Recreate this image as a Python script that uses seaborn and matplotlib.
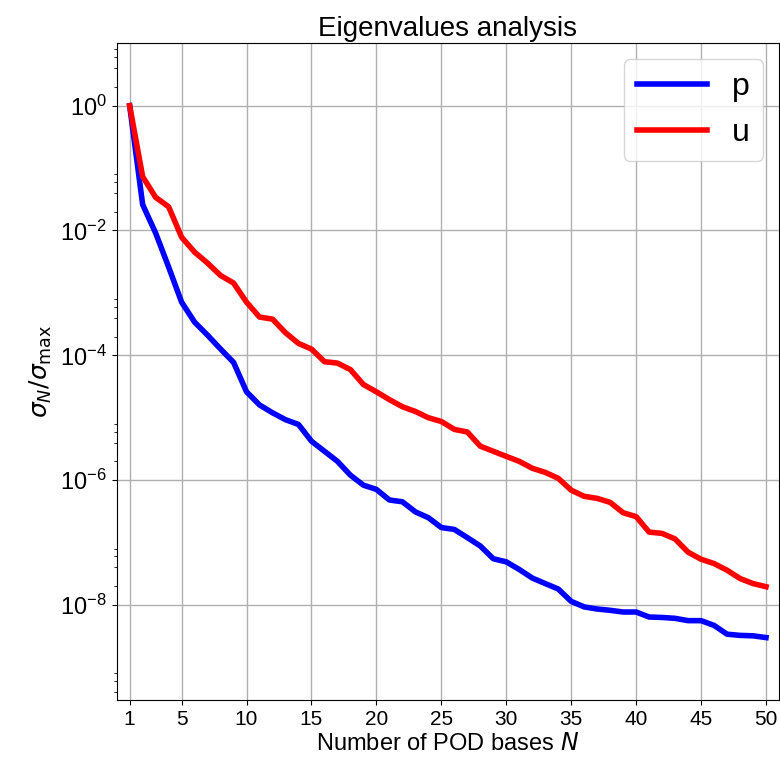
import numpy as np
import pandas as pd
import matplotlib
matplotlib.use('Agg')
import matplotlib.pyplot as plt
from matplotlib.ticker import LogLocator, NullFormatter
import seaborn as sns

# normalised singular values
n_bases = list(range(1, 51))
sigma_p = [1.0, 2.6e-2, 9.1e-3, 2.6e-3, 7.1e-4, 3.4e-4, 2.1e-4, 1.26e-4, 7.7e-5, 2.6e-5,
           1.6e-5, 1.2e-5, 9.3e-6, 7.8e-6, 4.2e-6, 2.9e-6, 2.0e-6, 1.2e-6, 8.3e-7, 7.1e-7,
           4.8e-7, 4.5e-7, 3.1e-7, 2.5e-7, 1.74e-7, 1.62e-7, 1.2e-7, 8.8e-8, 5.5e-8, 4.9e-8,
           3.7e-8, 2.7e-8, 2.2e-8, 1.8e-8, 1.14e-8, 9.3e-9, 8.6e-9, 8.2e-9, 7.7e-9, 7.7e-9,
           6.4e-9, 6.3e-9, 6.1e-9, 5.6e-9, 5.6e-9, 4.7e-9, 3.4e-9, 3.25e-9, 3.2e-9, 3.0e-9]
sigma_u = [1.0, 7.3e-2, 3.4e-2, 2.4e-2, 7.8e-3, 4.5e-3, 3.0e-3, 1.9e-3, 1.44e-3, 7.1e-4,
           4.1e-4, 3.8e-4, 2.3e-4, 1.55e-4, 1.26e-4, 7.9e-5, 7.5e-5, 5.9e-5, 3.4e-5, 2.6e-5,
           1.95e-5, 1.5e-5, 1.26e-5, 1.0e-5, 8.7e-6, 6.5e-6, 5.9e-6, 3.5e-6, 2.9e-6, 2.4e-6,
           2.0e-6, 1.55e-6, 1.33e-6, 1.07e-6, 6.9e-7, 5.5e-7, 5.1e-7, 4.4e-7, 3.0e-7, 2.6e-7,
           1.47e-7, 1.4e-7, 1.14e-7, 7.0e-8, 5.4e-8, 4.6e-8, 3.6e-8, 2.65e-8, 2.2e-8, 1.96e-8]
x_ticks = [1, 5, 10, 15, 20, 25, 30, 35, 40, 45, 50]

df = pd.DataFrame({
    'N': n_bases * 2,
    'sigma': sigma_p + sigma_u,
    'field': ['p'] * len(n_bases) + ['u'] * len(n_bases),
})

plt.rcParams['font.family'] = ['Liberation Sans', 'DejaVu Sans']

fig, ax = plt.subplots(figsize=(7.8, 7.62), dpi=100)
fig.subplots_adjust(left=0.1496, right=0.9987, top=0.9432, bottom=0.0814)

sns.lineplot(data=df, x='N', y='sigma', hue='field', palette=['#0000ff', '#ff0000'],
             linewidth=4, ax=ax)

ax.set_yscale('log')
ax.set_ylim(min(sigma_p) / 10, 10)
ax.set_xlim(0, 51)
ax.set_xticks(x_ticks)
ax.yaxis.set_minor_locator(LogLocator(base=100, subs=[2, 4, 6, 8], numticks=50))
ax.yaxis.set_minor_formatter(NullFormatter())
ax.grid(True, which='major', color='#b0b0b0', linewidth=1)

ax.tick_params(axis='x', labelsize=15)
ax.tick_params(axis='y', labelsize=17)
ax.set_title('Eigenvalues analysis', fontsize=20, pad=5)
ax.set_xlabel('Number of POD bases $N$', fontsize=17, labelpad=3)
ax.set_ylabel(r'$\sigma_N/\sigma_{\max}$', fontsize=18, labelpad=4)

ax.legend(fontsize=23, loc='upper right', handlelength=2.2)

fig.savefig('out.png', dpi=100)
